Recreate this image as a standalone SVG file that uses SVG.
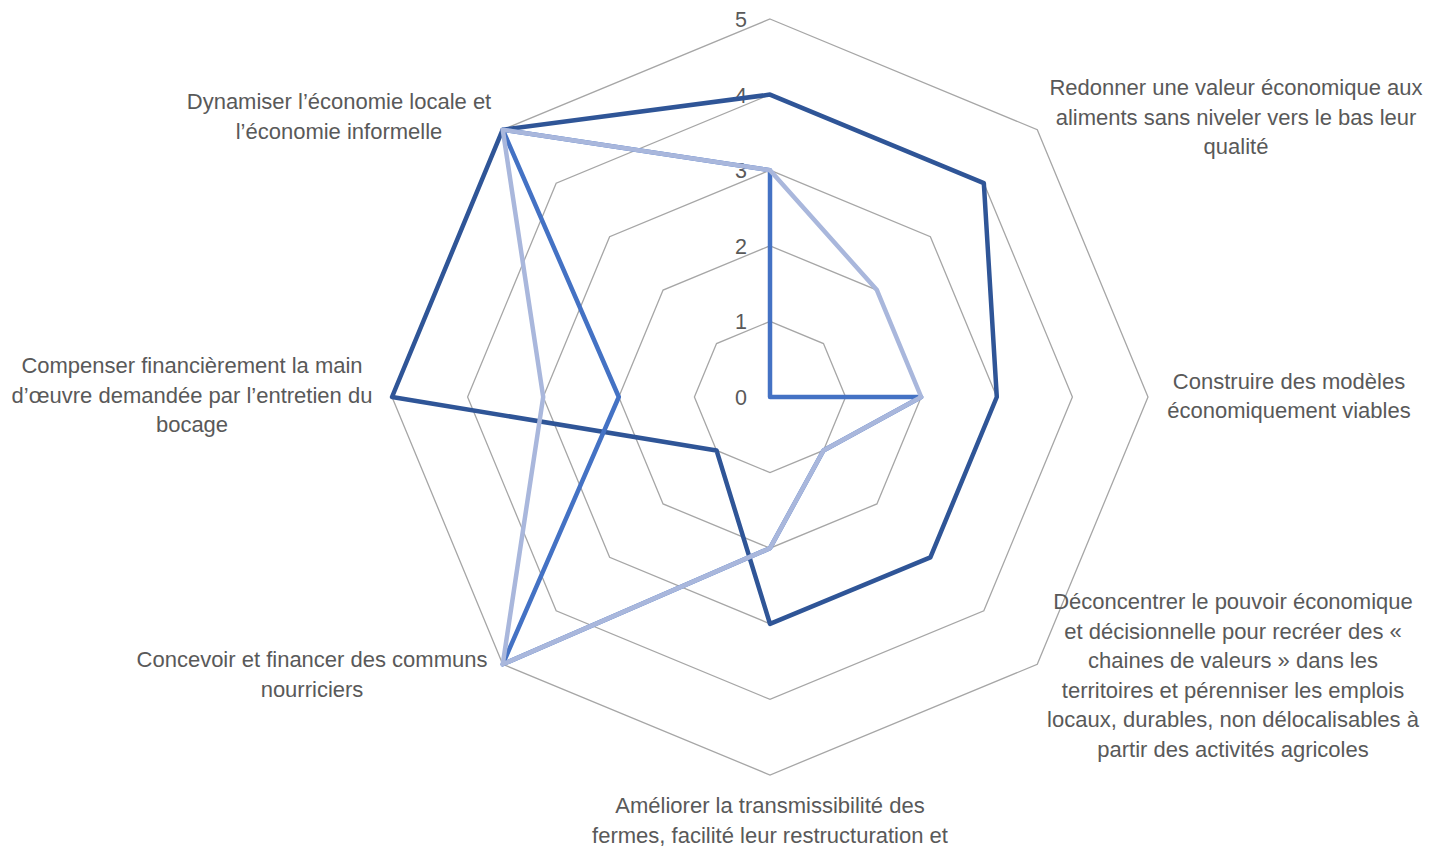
<svg xmlns="http://www.w3.org/2000/svg" width="1440" height="850" viewBox="0 0 1440 850">
<style>
.grid{fill:none;stroke:#A6A6A6;stroke-width:1.3}
.s{fill:none;stroke-width:4.5;stroke-linejoin:round}
.t{font-family:"Liberation Sans",Arial,sans-serif;font-size:22px;fill:#595959;text-anchor:middle}
.n{font-family:"Liberation Sans",Arial,sans-serif;font-size:21.5px;fill:#595959;text-anchor:end}
</style>
<rect width="1440" height="850" fill="#FFFFFF"/>
<g id="grid">
<polygon class="grid" points="770,321.4 823.46,343.54 845.6,397 823.46,450.46 770,472.6 716.54,450.46 694.4,397 716.54,343.54"/>
<polygon class="grid" points="770,245.8 876.91,290.09 921.2,397 876.91,503.91 770,548.2 663.09,503.91 618.8,397 663.09,290.09"/>
<polygon class="grid" points="770,170.2 930.37,236.63 996.8,397 930.37,557.37 770,623.8 609.63,557.37 543.2,397 609.63,236.63"/>
<polygon class="grid" points="770,94.6 983.83,183.17 1072.4,397 983.83,610.83 770,699.4 556.17,610.83 467.6,397 556.17,183.17"/>
<polygon class="grid" points="770,19 1037.29,129.71 1148,397 1037.29,664.29 770,775 502.71,664.29 392,397 502.71,129.71"/>
</g>
<g id="axis-labels">
<text class="n" x="747" y="405">0</text>
<text class="n" x="747" y="329.4">1</text>
<text class="n" x="747" y="253.8">2</text>
<text class="n" x="747" y="178.2">3</text>
<text class="n" x="747" y="102.6">4</text>
<text class="n" x="747" y="27">5</text>
</g>
<g id="connectors">
<polygon id="series1" class="s" stroke="#2F5597" points="770,94.6 983.83,183.17 996.8,397 930.37,557.37 770,623.8 716.54,450.46 392,397 502.71,129.71"/>
<polygon id="series2" class="s" stroke="#4472C4" points="770,170.2 770,397 921.2,397 823.46,450.46 770,548.2 502.71,664.29 618.8,397 502.71,129.71"/>
<polygon id="series3" class="s" stroke="#A9B7DC" points="770,170.2 876.91,290.09 921.2,397 823.46,450.46 770,548.2 502.71,664.29 543.2,397 502.71,129.71"/>
</g>
<g id="label-ne">
<text class="t" x="1236" y="95">Redonner une valeur économique aux</text>
<text class="t" x="1236" y="124.5">aliments sans niveler vers le bas leur</text>
<text class="t" x="1236" y="154">qualité</text>
</g>
<g id="label-e">
<text class="t" x="1289" y="388.5">Construire des modèles</text>
<text class="t" x="1289" y="418">économiquement viables</text>
</g>
<g id="label-se">
<text class="t" x="1233" y="609">Déconcentrer le pouvoir économique</text>
<text class="t" x="1233" y="638.5">et décisionnelle pour recréer des «</text>
<text class="t" x="1233" y="668">chaines de valeurs » dans les</text>
<text class="t" x="1233" y="697.5">territoires et pérenniser les emplois</text>
<text class="t" x="1233" y="727">locaux, durables, non délocalisables à</text>
<text class="t" x="1233" y="756.5">partir des activités agricoles</text>
</g>
<g id="label-s">
<text class="t" x="770" y="813">Améliorer la transmissibilité des</text>
<text class="t" x="770" y="842.5">fermes, facilité leur restructuration et</text>
</g>
<g id="label-sw">
<text class="t" x="312" y="667">Concevoir et financer des communs</text>
<text class="t" x="312" y="696.5">nourriciers</text>
</g>
<g id="label-w">
<text class="t" x="192" y="373">Compenser financièrement la main</text>
<text class="t" x="192" y="402.5">d’œuvre demandée par l’entretien du</text>
<text class="t" x="192" y="432">bocage</text>
</g>
<g id="label-nw">
<text class="t" x="339" y="109">Dynamiser l’économie locale et</text>
<text class="t" x="339" y="138.5">l’économie informelle</text>
</g>
</svg>
